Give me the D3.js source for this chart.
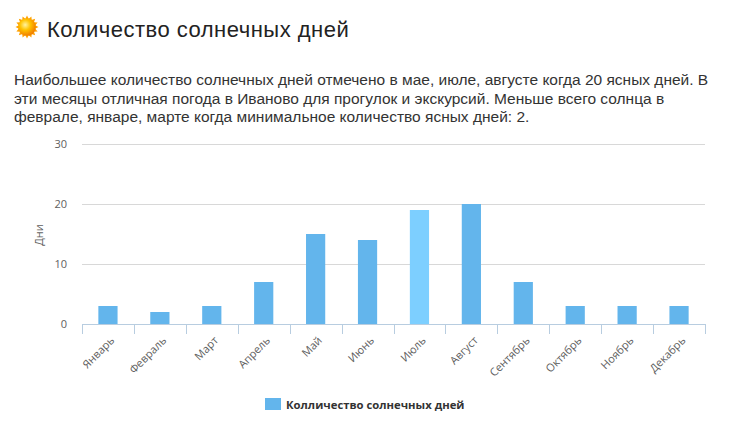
<!DOCTYPE html>
<html>
<head>
<meta charset="utf-8">
<script src="https://cdn.jsdelivr.net/npm/d3@7"></script>
<style>
  body { margin: 0; background: #fff; }
  svg { display: block; }
</style>
</head>
<body>
<svg id="chart" width="745" height="432"></svg>
<script>
  const months = ["Январь", "Февраль", "Март", "Апрель", "Май", "Июнь", "Июль", "Август", "Сентябрь", "Октябрь", "Ноябрь", "Декабрь"];
  const sunnyDays = [3, 2, 3, 7, 15, 14, 19, 20, 7, 3, 3, 3];
  const yTicks = [0, 10, 20, 30];
  const highlighted = "Июль";

  const titleText = "Количество солнечных дней";
  const paragraphLines = [
    "Наибольшее количество солнечных дней отмечено в мае, июле, августе когда 20 ясных дней. В",
    "эти месяцы отличная погода в Иваново для прогулок и экскурсий. Меньше всего солнца в",
    "феврале, январе, марте когда минимальное количество ясных дней: 2."
  ];
  const yAxisTitle = "Дни";
  const legendLabel = "Колличество солнечных дней";

  const svg = d3.select("#chart");
  const margin = { left: 82, right: 40, top: 144, bottom: 108 };
  const plotW = 745 - margin.left - margin.right;
  const plotH = 432 - margin.top - margin.bottom;

  // sun icon
  const defs = svg.append("defs");
  const grad = defs.append("radialGradient").attr("id", "sun").attr("cx", "40%").attr("cy", "38%").attr("r", "65%");
  grad.append("stop").attr("offset", "0%").attr("stop-color", "#fff3a0");
  grad.append("stop").attr("offset", "45%").attr("stop-color", "#ffc400");
  grad.append("stop").attr("offset", "100%").attr("stop-color", "#f07800");

  const sun = svg.append("g").attr("transform", "translate(27,27)");
  sun.selectAll("path")
    .data(d3.range(16))
    .join("path")
    .attr("d", "M-1.8,-8 L0,-11.5 L1.8,-8 Z")
    .attr("fill", "#ffa200")
    .attr("transform", (d) => `rotate(${d * 22.5})`);
  sun.append("circle").attr("r", 8.8).attr("fill", "url(#sun)");

  svg.append("text")
    .attr("x", 47)
    .attr("y", 37)
    .attr("font-family", "Liberation Sans, Arial, sans-serif")
    .attr("font-size", 22)
    .attr("letter-spacing", 0.5)
    .attr("fill", "#222")
    .text(titleText);

  svg.append("g")
    .selectAll("text")
    .data(paragraphLines)
    .join("text")
    .attr("x", 14)
    .attr("y", (d, i) => 85 + i * 18.5)
    .attr("font-family", "Liberation Sans, Arial, sans-serif")
    .attr("font-size", 15.5)
    .attr("fill", "#333")
    .text((d) => d);

  const x = d3.scaleBand().domain(months).range([0, plotW]).paddingInner(0.63).paddingOuter(0.315);
  const y = d3.scaleLinear().domain([0, 30]).range([plotH, 0]);

  const g = svg.append("g").attr("transform", `translate(${margin.left},${margin.top})`);
  const labelFont = "Open Sans, DejaVu Sans, sans-serif";

  g.append("g")
    .selectAll("line")
    .data(yTicks.filter((t) => t > 0))
    .join("line")
    .attr("x1", 0)
    .attr("x2", plotW)
    .attr("y1", (d) => Math.round(y(d)) + 0.5)
    .attr("y2", (d) => Math.round(y(d)) + 0.5)
    .attr("stroke", "#d8d8d8");

  const yAxis = g.append("g")
    .call(d3.axisLeft(y).tickValues(yTicks).tickSize(0).tickPadding(15));
  yAxis.select(".domain").remove();
  yAxis.selectAll("text")
    .attr("font-family", labelFont)
    .attr("font-size", 11)
    .attr("fill", "#606060");

  g.append("text")
    .attr("transform", `translate(${38 - margin.left},${235 - margin.top}) rotate(-90)`)
    .attr("text-anchor", "middle")
    .attr("dominant-baseline", "central")
    .attr("font-family", labelFont)
    .attr("font-size", 11)
    .attr("fill", "#606060")
    .text(yAxisTitle);

  g.selectAll("rect.bar")
    .data(months)
    .join("rect")
    .attr("class", "bar")
    .attr("x", (d) => x(d))
    .attr("width", x.bandwidth())
    .attr("y", (d, i) => y(sunnyDays[i]))
    .attr("height", (d, i) => plotH - y(sunnyDays[i]))
    .attr("fill", (d) => d === highlighted ? "#7dcfff" : "#63b5ec");

  // category axis with ticks at band boundaries
  const bounds = d3.range(months.length + 1).map((i) => i * plotW / months.length);
  const xAxisG = g.append("g").attr("transform", `translate(0,${plotH})`);
  xAxisG.append("line")
    .attr("x1", 0).attr("x2", plotW)
    .attr("y1", 0.5).attr("y2", 0.5)
    .attr("stroke", "#b8cde0");
  xAxisG.selectAll("line.tick")
    .data(bounds)
    .join("line")
    .attr("class", "tick")
    .attr("x1", (d) => Math.round(d) + 0.5)
    .attr("x2", (d) => Math.round(d) + 0.5)
    .attr("y1", 0)
    .attr("y2", 10)
    .attr("stroke", "#b8cde0");
  xAxisG.selectAll("text")
    .data(months)
    .join("text")
    .attr("transform", (d) => `translate(${x(d) + x.bandwidth() / 2 + 4},${14}) rotate(-45)`)
    .attr("text-anchor", "end")
    .attr("dominant-baseline", "central")
    .attr("font-family", labelFont)
    .attr("font-size", 11)
    .attr("fill", "#606060")
    .text((d) => d);

  // legend
  const legend = svg.append("g").attr("transform", "translate(265,398)");
  legend.append("rect").attr("width", 16).attr("height", 12).attr("fill", "#63b5ec");
  legend.append("text")
    .attr("x", 21)
    .attr("y", 6)
    .attr("dominant-baseline", "central")
    .attr("font-family", labelFont)
    .attr("font-size", 11.3)
    .attr("font-weight", "bold")
    .attr("fill", "#333")
    .text(legendLabel);
</script>
</body>
</html>
